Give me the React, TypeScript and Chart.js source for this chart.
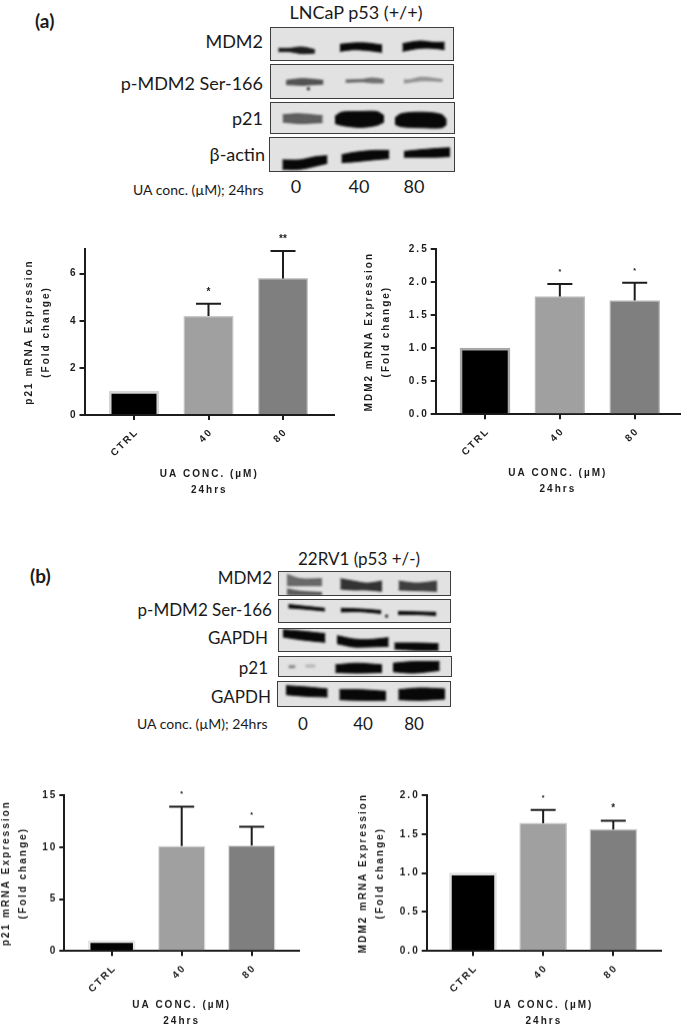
import React, { useEffect, useRef } from "react";
import { Chart, registerables } from "chart.js";

Chart.register(...registerables);

const categories = ["CTRL", "40", "80"];
const xTitle = ["UA CONC. (\u00b5M)", "24hrs"];
const p21Title = ["p21 mRNA Expression", "(Fold change)"];
const mdm2Title = ["MDM2 mRNA Expression", "(Fold change)"];

const p21LncapValues = [1.0, 4.2, 5.8];
const p21LncapErrorTops = [null, 4.72, 6.97];
const p21LncapStars = ["", "*", "**"];
const p21LncapStarSizes = [0, 10, 10];

const mdm2LncapValues = [1.0, 1.78, 1.72];
const mdm2LncapErrorTops = [null, 1.97, 1.99];
const mdm2LncapStars = ["", "*", "*"];
const mdm2LncapStarSizes = [0, 7, 7];

const p21RvValues = [1.0, 10.1, 10.15];
const p21RvErrorTops = [null, 13.9, 11.95];
const p21RvStars = ["", "*", "*"];
const p21RvStarSizes = [0, 7, 7];

const mdm2RvValues = [1.0, 1.64, 1.56];
const mdm2RvErrorTops = [null, 1.81, 1.67];
const mdm2RvStars = ["", "*", "*"];
const mdm2RvStarSizes = [0, 7, 10];

// Western blot bands: each trace is a list of [x, upper edge, lower edge]; tones are darkness
const aMdm2Bands = [
  [[835, 146, 156], [870, 146, 156], [905, 142, 162], [945, 150, 160]],
  [[1020, 134, 155], [1060, 130, 150], [1100, 130, 152], [1147, 136, 158]],
  [[1208, 132, 155], [1260, 124, 146], [1300, 128, 146], [1335, 128, 150]],
];
const aMdm2Tones = [0.9, 1, 1];
const aPhosphoBands = [
  [[848, 240, 256], [900, 233, 258], [965, 240, 254]],
  [[1035, 238, 247], [1090, 236, 245], [1120, 231, 249], [1155, 237, 249]],
  [[1218, 237, 250], [1235, 238, 247], [1275, 228, 241], [1340, 237, 243]],
];
const aPhosphoTones = [0.65, 0.5, 0.32];
const aP21Bands = [
  [[848, 346, 368], [900, 343, 372], [968, 349, 369]],
  [[1005, 350, 372], [1025, 338, 378], [1080, 336, 384], [1130, 336, 378], [1152, 348, 368]],
  [[1185, 355, 375], [1205, 342, 382], [1270, 338, 385], [1325, 345, 385], [1340, 362, 375]],
];
const aP21Tones = [0.6, 1, 1];
const aActinBands = [
  [[848, 480, 508], [900, 480, 508], [950, 470, 498], [983, 468, 490]],
  [[1025, 465, 488], [1060, 458, 486], [1120, 452, 480], [1168, 452, 476]],
  [[1212, 455, 472], [1260, 450, 472], [1310, 446, 472], [1350, 444, 470]],
];
const aActinTones = [1, 1, 1];

const bMdm2Bands = [
  [[860, 72, 105], [900, 85, 105], [965, 85, 105]],
  [[860, 115, 132], [900, 122, 133], [965, 126, 133]],
  [[1020, 85, 115], [1060, 92, 118], [1100, 98, 118], [1145, 92, 122]],
  [[1195, 92, 118], [1250, 98, 120], [1310, 92, 122]],
];
const bMdm2Tones = [0.55, 0.6, 0.8, 0.75];
const bPhosphoBands = [
  [[853, 155, 170], [900, 162, 175], [968, 172, 184]],
  [[1018, 172, 188], [1080, 175, 187], [1145, 182, 195]],
  [[1198, 186, 200], [1260, 188, 200], [1318, 190, 204]],
];
const bPhosphoTones = [1, 1, 1];
const bPhosphoSpecks = [[1162, 207]];
const bGapdhTopBands = [
  [[848, 240, 262], [900, 244, 270], [975, 252, 278]],
  [[1010, 258, 282], [1060, 268, 292], [1100, 270, 292], [1165, 264, 290]],
  [[1182, 280, 298], [1250, 280, 302], [1315, 282, 302]],
];
const bGapdhTopTones = [1, 1, 1];
const bP21Bands = [
  [[865, 348, 354], [885, 348, 353]],
  [[915, 345, 352], [945, 345, 352]],
  [[1005, 345, 368], [1070, 340, 370], [1145, 345, 368]],
  [[1178, 340, 366], [1240, 335, 370], [1318, 335, 362]],
];
const bP21Tones = [0.35, 0.15, 1, 1];
const bGapdhBottomBands = [
  [[858, 408, 435], [920, 412, 440], [983, 418, 442]],
  [[1018, 420, 450], [1080, 420, 452], [1158, 425, 452]],
  [[1195, 420, 450], [1260, 415, 452], [1335, 418, 448]],
];
const bGapdhBottomTones = [1, 1, 1];
const aPhosphoSpecks = [[918, 272]];

const FONT = "'Liberation Sans', Arial, sans-serif";
const INK = "#1c1c1c";
const SPACING = "2px";

const errorStarPlugin = {
  id: "errorStars",
  beforeUpdate(chart: any) {
    chart.ctx.letterSpacing = SPACING;
  },
  beforeDraw(chart: any) {
    chart.ctx.letterSpacing = SPACING;
  },
  afterDatasetsDraw(chart: any, _a: any, opts: any) {
    const { ctx, scales } = chart;
    const { errorTops, stars, starSizes, values } = opts;
    ctx.save();
    ctx.strokeStyle = INK;
    ctx.fillStyle = INK;
    ctx.lineWidth = 2;
    ctx.letterSpacing = "0px";
    ctx.textAlign = "center";
    ctx.textBaseline = "middle";
    values.forEach((v: number, i: number) => {
      const top = errorTops[i];
      if (top == null) return;
      const x = scales.x.getPixelForValue(i);
      const y0 = scales.y.getPixelForValue(v);
      const y1 = scales.y.getPixelForValue(top);
      ctx.beginPath();
      ctx.moveTo(x, y0);
      ctx.lineTo(x, y1);
      ctx.moveTo(x - 12.5, y1);
      ctx.lineTo(x + 12.5, y1);
      ctx.stroke();
      if (stars[i]) {
        ctx.font = `bold ${starSizes[i]}px ${FONT}`;
        ctx.fillText(stars[i], x, y1 - 12);
      }
    });
    ctx.restore();
  },
};

type BarProps = {
  values: number[];
  errorTops: (number | null)[];
  stars: string[];
  starSizes: number[];
  yTitle: string[];
  yMax: number;
  yStep: number;
  axisX: number;
  right: number;
  zeroY: number;
  topY: number;
  tick0: number;
  tickStep: number;
  titleX: number;
  lastLineY: number;
  barWidth: number;
  ctrlEdge: string;
  edge: string;
};

function BarPanel(p: BarProps) {
  const ref = useRef<HTMLCanvasElement>(null);
  const left = p.titleX - 11;
  const canvasTop = p.topY - 24;
  const bottom = p.lastLineY + 8;
  const width = p.right + 5 - left;
  const height = bottom - canvasTop;
  useEffect(() => {
    const chart = new Chart(ref.current!, {
      type: "bar",
      data: {
        datasets: [
          {
            data: p.values.map((y, x) => ({ x, y })),
            backgroundColor: ["#000000", "#a0a0a0", "#7f7f7f"],
            borderColor: [p.ctrlEdge, p.edge, p.edge],
            borderWidth: [2.6, 1.4, 1.4],
            borderSkipped: "bottom",
            barThickness: p.barWidth,
          } as any,
        ],
      },
      plugins: [errorStarPlugin],
      options: {
        animation: false,
        responsive: false,
        devicePixelRatio: 1,
        layout: { padding: { top: 24, right: 5, bottom: 0, left: 0 } },
        plugins: {
          legend: { display: false },
          tooltip: { enabled: false },
          errorStars: {
            values: p.values,
            errorTops: p.errorTops,
            stars: p.stars,
            starSizes: p.starSizes,
          },
        } as any,
        scales: {
          x: {
            type: "linear",
            offset: false,
            min: (p.axisX - p.tick0) / p.tickStep,
            max: (p.right - p.tick0) / p.tickStep,
            afterFit(s: any) {
              s.height = bottom - p.zeroY;
            },
            grid: {
              display: true,
              offset: false,
              drawOnChartArea: false,
              tickLength: 5,
              tickColor: INK,
              lineWidth: 2,
            },
            border: { display: true, color: INK, width: 2 },
            ticks: {
              stepSize: 1,
              includeBounds: false,
              autoSkip: false,
              minRotation: 45,
              maxRotation: 45,
              padding: 6,
              labelOffset: 3,
              color: INK,
              font: { family: FONT, size: 10, weight: "bold" },
              callback: (v: any) => categories[v] ?? "",
            },
            title: {
              display: true,
              text: xTitle,
              color: INK,
              padding: 0,
              font: { family: FONT, size: 10, weight: "bold", lineHeight: "16px" },
            },
          },
          y: {
            min: 0,
            max: p.yMax,
            afterFit(s: any) {
              s.width = p.axisX - left;
            },
            grid: {
              display: true,
              drawOnChartArea: false,
              tickLength: 5,
              tickColor: INK,
              lineWidth: 2,
            },
            border: { display: true, color: INK, width: 2 },
            ticks: {
              stepSize: p.yStep,
              includeBounds: false,
              padding: 2,
              color: INK,
              font: { family: FONT, size: 10, weight: "bold" },
              callback: (v: any) => (p.yStep < 1 ? Number(v).toFixed(1) : String(v)),
            },
            title: {
              display: true,
              text: p.yTitle,
              color: INK,
              padding: { top: 2.5, bottom: 0 },
              font: { family: FONT, size: 10, weight: "bold", lineHeight: "17px" },
            },
          },
        },
      } as any,
    });
    return () => chart.destroy();
  }, []);
  return (
    <canvas
      ref={ref}
      width={width}
      height={height}
      style={{ position: "absolute", left, top: canvasTop, width, height }}
    />
  );
}

type BlotProps = {
  origin: number;
  box: number[];
  bands: number[][][];
  tones: number[];
  specks?: number[][];
};

function BlotPanel({ origin, box, bands, tones, specks }: BlotProps) {
  const ref = useRef<HTMLCanvasElement>(null);
  const [x0, y0, x1, y1] = box;
  const left = x0 / 3;
  const top = origin + y0 / 3;
  const width = Math.round((x1 - x0) / 3);
  const height = Math.round((y1 - y0) / 3);
  useEffect(() => {
    const datasets: any[] = [];
    bands.forEach((trace, i) => {
      const color = `rgba(8,8,8,${tones[i]})`;
      const base = { pointRadius: 0, borderWidth: 1, borderColor: color, tension: 0.3, backgroundColor: color };
      datasets.push({ ...base, data: trace.map((t) => ({ x: t[0], y: t[1] })), fill: false });
      datasets.push({ ...base, data: trace.map((t) => ({ x: t[0], y: t[2] })), fill: "-1" });
    });
    if (specks) {
      datasets.push({
        data: specks.map((s) => ({ x: s[0], y: s[1] })),
        showLine: false,
        pointRadius: 1.6,
        pointBackgroundColor: "#111",
        pointBorderWidth: 0,
      });
    }
    const chart = new Chart(ref.current!, {
      type: "line",
      data: { datasets },
      options: {
        animation: false,
        responsive: false,
        devicePixelRatio: 1,
        plugins: { legend: { display: false }, tooltip: { enabled: false } },
        scales: {
          x: { type: "linear", display: false, min: x0, max: x1 },
          y: { type: "linear", display: false, min: y0, max: y1, reverse: true },
        },
      } as any,
    });
    return () => chart.destroy();
  }, []);
  return (
    <div
      style={{
        position: "absolute",
        left,
        top,
        width,
        height,
        boxSizing: "border-box",
        border: "1.3px solid #3d3d3d",
        background: "#e2e2e2",
        overflow: "hidden",
      }}
    >
      <canvas
        ref={ref}
        width={width}
        height={height}
        style={{ position: "absolute", left: -1, top: -1, width, height, filter: "blur(0.8px)" }}
      />
    </div>
  );
}

const LABEL_FONT = "Lato, 'Open Sans', sans-serif";

function Text({
  children,
  x,
  y,
  size,
  anchor = "left",
  weight = 400,
}: {
  children: React.ReactNode;
  x: number;
  y: number;
  size: number;
  anchor?: "left" | "right" | "center";
  weight?: number;
}) {
  const shift = anchor === "right" ? "-100%" : anchor === "center" ? "-50%" : "0";
  return (
    <div
      style={{
        position: "absolute",
        left: x,
        top: y,
        transform: `translate(${shift}, -50%)`,
        fontFamily: LABEL_FONT,
        fontSize: size,
        fontWeight: weight,
        color: "#1a1a1a",
        whiteSpace: "nowrap",
        lineHeight: 1,
      }}
    >
      {children}
    </div>
  );
}

export default function App() {
  const common = { yTitle: p21Title };
  return (
    <div style={{ position: "absolute", left: 0, top: 0, width: 685, height: 1028, overflow: "hidden", background: "#fff" }}>
      <Text x={35} y={20} size={19} weight={700}>(a)</Text>
      <Text x={356} y={12} size={18} anchor="center">LNCaP p53 (+/+)</Text>
      <Text x={263} y={41} size={18} anchor="right">MDM2</Text>
      <Text x={263} y={83} size={18} anchor="right">p-MDM2 Ser-166</Text>
      <Text x={263} y={118} size={18} anchor="right">p21</Text>
      <Text x={265} y={154} size={18} anchor="right">β-actin</Text>
      <Text x={133} y={190} size={14}>UA conc. (µM); 24hrs</Text>
      <Text x={296} y={186} size={18} anchor="center">0</Text>
      <Text x={359} y={186} size={18} anchor="center">40</Text>
      <Text x={414} y={186} size={18} anchor="center">80</Text>
      <BlotPanel origin={0} box={[810, 82, 1363, 184]} bands={aMdm2Bands} tones={aMdm2Tones} />
      <BlotPanel origin={0} box={[810, 192, 1363, 296]} bands={aPhosphoBands} tones={aPhosphoTones} specks={aPhosphoSpecks} />
      <BlotPanel origin={0} box={[810, 307, 1365, 404]} bands={aP21Bands} tones={aP21Tones} />
      <BlotPanel origin={0} box={[808, 412, 1365, 516]} bands={aActinBands} tones={aActinTones} />

      <BarPanel {...common} values={p21LncapValues} errorTops={p21LncapErrorTops} stars={p21LncapStars} starSizes={p21LncapStarSizes}
        yMax={7.05} yStep={2} axisX={84.5} right={334} zeroY={415} topY={249} tick0={134} tickStep={74.5}
        titleX={29} lastLineY={490} barWidth={49.5} ctrlEdge="#d4d4d4" edge="#c9c9c9" />
      <BarPanel yTitle={mdm2Title} values={mdm2LncapValues} errorTops={mdm2LncapErrorTops} stars={mdm2LncapStars} starSizes={mdm2LncapStarSizes}
        yMax={2.5} yStep={0.5} axisX={435.7} right={680} zeroY={414} topY={248.7} tick0={485} tickStep={74.85}
        titleX={369} lastLineY={488.7} barWidth={50} ctrlEdge="#a8a8a8" edge="#bdbdbd" />

      <Text x={30} y={575} size={19} weight={700}>(b)</Text>
      <Text x={359} y={558} size={17} anchor="center">22RV1 (p53 +/-)</Text>
      <Text x={272} y={577} size={17} anchor="right">MDM2</Text>
      <Text x={272} y={609} size={17} anchor="right">p-MDM2 Ser-166</Text>
      <Text x={268} y={637} size={17} anchor="right">GAPDH</Text>
      <Text x={268} y={667} size={17} anchor="right">p21</Text>
      <Text x={271} y={696} size={17} anchor="right">GAPDH</Text>
      <Text x={137} y={724} size={14}>UA conc. (µM); 24hrs</Text>
      <Text x={303} y={723} size={17} anchor="center">0</Text>
      <Text x={363} y={723} size={17} anchor="center">40</Text>
      <Text x={414} y={723} size={17} anchor="center">80</Text>
      <BlotPanel origin={550} box={[833, 62, 1352, 136]} bands={bMdm2Bands} tones={bMdm2Tones} />
      <BlotPanel origin={550} box={[833, 148, 1352, 220]} bands={bPhosphoBands} tones={bPhosphoTones} specks={bPhosphoSpecks} />
      <BlotPanel origin={550} box={[833, 235, 1352, 307]} bands={bGapdhTopBands} tones={bGapdhTopTones} />
      <BlotPanel origin={550} box={[833, 318, 1355, 382]} bands={bP21Bands} tones={bP21Tones} />
      <BlotPanel origin={550} box={[831, 394, 1353, 472]} bands={bGapdhBottomBands} tones={bGapdhBottomTones} />

      <BarPanel {...common} values={p21RvValues} errorTops={p21RvErrorTops} stars={p21RvStars} starSizes={p21RvStarSizes}
        yMax={15} yStep={5} axisX={64.3} right={299} zeroY={951} topY={795} tick0={111.7} tickStep={70}
        titleX={6} lastLineY={1020.7} barWidth={47} ctrlEdge="#e6e6e6" edge="#dedede" />
      <BarPanel yTitle={mdm2Title} values={mdm2RvValues} errorTops={mdm2RvErrorTops} stars={mdm2RvStars} starSizes={mdm2RvStarSizes}
        yMax={2} yStep={0.5} axisX={426.7} right={661} zeroY={951} topY={795} tick0={473} tickStep={70.15}
        titleX={363} lastLineY={1020.7} barWidth={47} ctrlEdge="#e0e0e0" edge="#c9c9c9" />
    </div>
  );
}
